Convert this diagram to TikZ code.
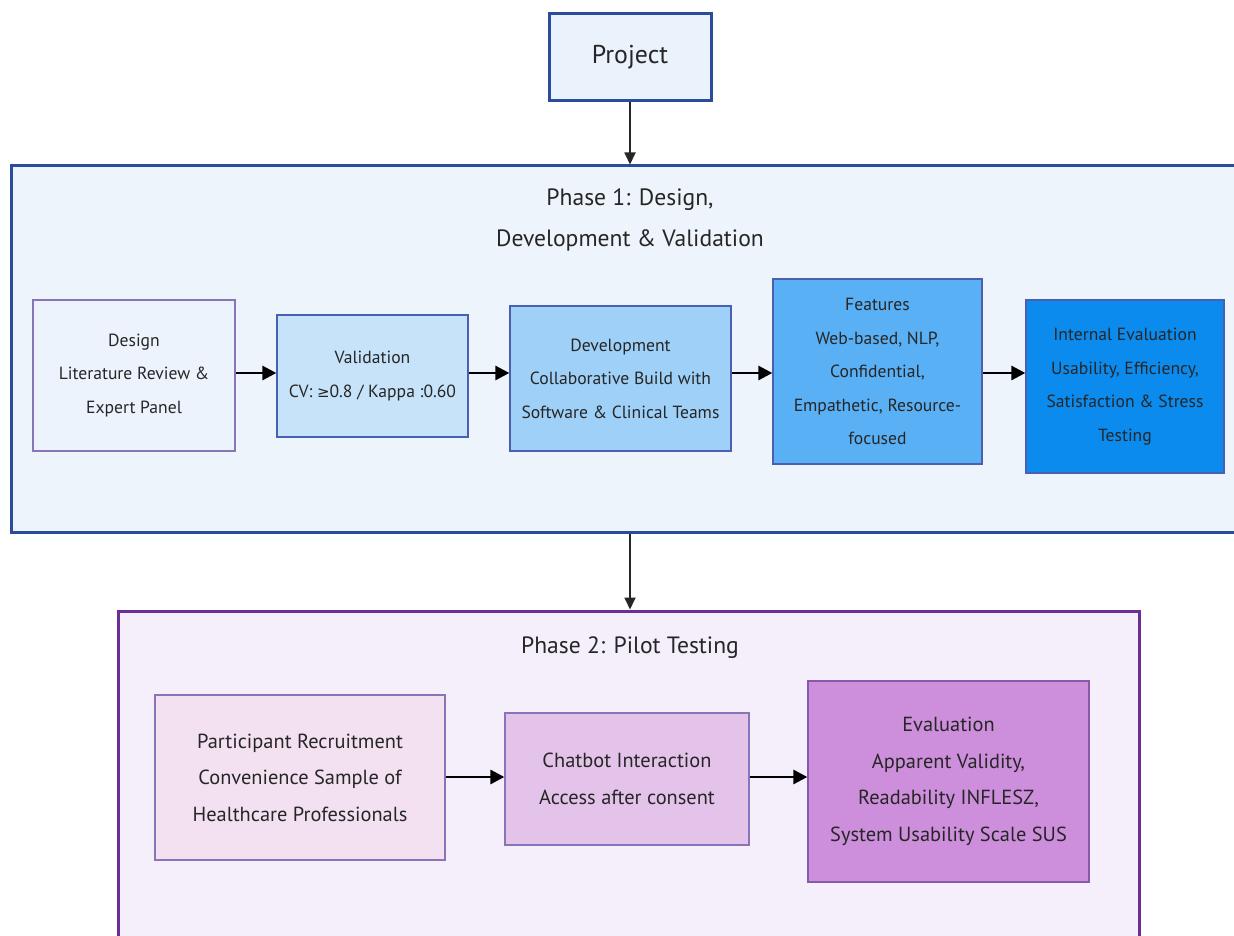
\documentclass[tikz,border=0pt]{standalone}
\usepackage{fontspec}
\setmainfont{PT Sans}
\newfontfamily\djv{DejaVu Sans}
\usetikzlibrary{arrows.meta,calc}
\definecolor{txt}{HTML}{262626}
\definecolor{pblue}{HTML}{2B4C9B}
\definecolor{ppurp}{HTML}{6B2D96}
\definecolor{bbord}{HTML}{4A5FB0}
\definecolor{vbord}{HTML}{8A74B8}
\definecolor{p1fill}{HTML}{EEF4FC}
\definecolor{p2fill}{HTML}{F4EFFB}
\definecolor{projfill}{HTML}{EAF2FC}
\definecolor{cDesign}{HTML}{EDF3FC}
\definecolor{cValid}{HTML}{C7E3FA}
\definecolor{cDev}{HTML}{9ED0F8}
\definecolor{cFeat}{HTML}{5AB0F4}
\definecolor{cInt}{HTML}{0B8BEE}
\definecolor{cPart}{HTML}{F3E1F1}
\definecolor{cChat}{HTML}{E4C3EA}
\definecolor{cEval}{HTML}{CD8FDB}
\tikzset{
  x=1pt,y=1pt,
  container/.style={draw, line width=3pt, inner sep=0pt},
  stepbox/.style={draw, line width=1.3pt, inner sep=0pt, align=center, text=txt,
    font=\fontsize{17.6}{33.5}\selectfont},
  pilotbox/.style={stepbox, font=\fontsize{20.4}{36.5}\selectfont},
  ttl/.style={text=txt, align=center, font=\fontsize{23.6}{41}\selectfont},
  arr/.style={line width=2.8pt, -{Triangle[length=14pt,width=14pt]}},
  conn/.style={line width=1.8pt, draw=black!85, -{Triangle[length=12pt,width=11pt]}}
}
\begin{document}
\begin{tikzpicture}
\useasboundingbox (0,0) rectangle (1234,-936);
\clip (0,0) rectangle (1234,-936);
\fill[white] (0,0) rectangle (1234,-936);

% Project
\node[draw=pblue, fill=projfill, line width=3pt, minimum width=162pt, minimum height=87pt,
  text=txt, font=\fontsize{25.8}{30}\selectfont] (project) at (630,-57.5) {Project};

% Phase 1
\node[container, draw=pblue, fill=p1fill, minimum width=1250pt, minimum height=366pt]
  (phase1) at (636,-349) {};
\node[ttl] (t1) at (630,-219.5) {Phase 1: Design,\\Development \& Validation};

\node[stepbox, draw=vbord, fill=cDesign, minimum width=202pt, minimum height=151pt]
  (design) at (134,-375.5) {Design\\Literature Review \&\\Expert Panel};
\node[stepbox, draw=bbord, fill=cValid, minimum width=191pt, minimum height=122pt]
  (valid) at (372.5,-376) {Validation\\CV: {\djv\fontsize{15}{15}\selectfont ≥}0.8 / Kappa :0.60};
\node[stepbox, draw=bbord, fill=cDev, minimum width=221pt, minimum height=145pt]
  (dev) at (620.5,-378.5) {Development\\Collaborative Build with\\Software \& Clinical Teams};
\node[stepbox, draw=bbord, fill=cFeat, minimum width=209pt, minimum height=185pt]
  (feat) at (877.5,-371.5) {Features\\Web-based, NLP,\\Confidential,\\Empathetic, Resource-\\focused};
\node[stepbox, draw=bbord, fill=cInt, minimum width=198pt, minimum height=173pt]
  (int) at (1125,-386.5) {Internal Evaluation\\Usability, Efficiency,\\Satisfaction \& Stress\\Testing};

\coordinate (ay) at (0,-373);
\draw[arr] (design.east |- ay) -- (valid.west |- ay);
\draw[arr] (valid.east |- ay) -- (dev.west |- ay);
\draw[arr] (dev.east |- ay) -- (feat.west |- ay);
\draw[arr] (feat.east |- ay) -- (int.west |- ay);

% Phase 2
\node[container, draw=ppurp, fill=p2fill, minimum width=1021pt, minimum height=380pt]
  (phase2) at (628.5,-801) {};
\node[ttl] (t2) at (630,-648) {Phase 2: Pilot Testing};

\node[pilotbox, draw=vbord, fill=cPart, minimum width=290pt, minimum height=165pt]
  (part) at (300,-777.5) {Participant Recruitment\\Convenience Sample of\\Healthcare Professionals};
\node[pilotbox, draw=vbord, fill=cChat, minimum width=244pt, minimum height=132pt]
  (chat) at (627,-779) {Chatbot Interaction\\Access after consent};
\node[pilotbox, draw=ppurp!80, fill=cEval, minimum width=281pt, minimum height=201pt]
  (eval) at (948.5,-781.5) {Evaluation\\Apparent Validity,\\Readability INFLESZ,\\System Usability Scale SUS};

\coordinate (by) at (0,-777);
\draw[arr] (part.east |- by) -- (chat.west |- by);
\draw[arr] (chat.east |- by) -- (eval.west |- by);

% Phase connectors
\draw[conn] (project.south) -- (project.south |- phase1.north);
\draw[conn] (phase1.south -| project.south) -- (project.south |- phase2.north);
\end{tikzpicture}
\end{document}
